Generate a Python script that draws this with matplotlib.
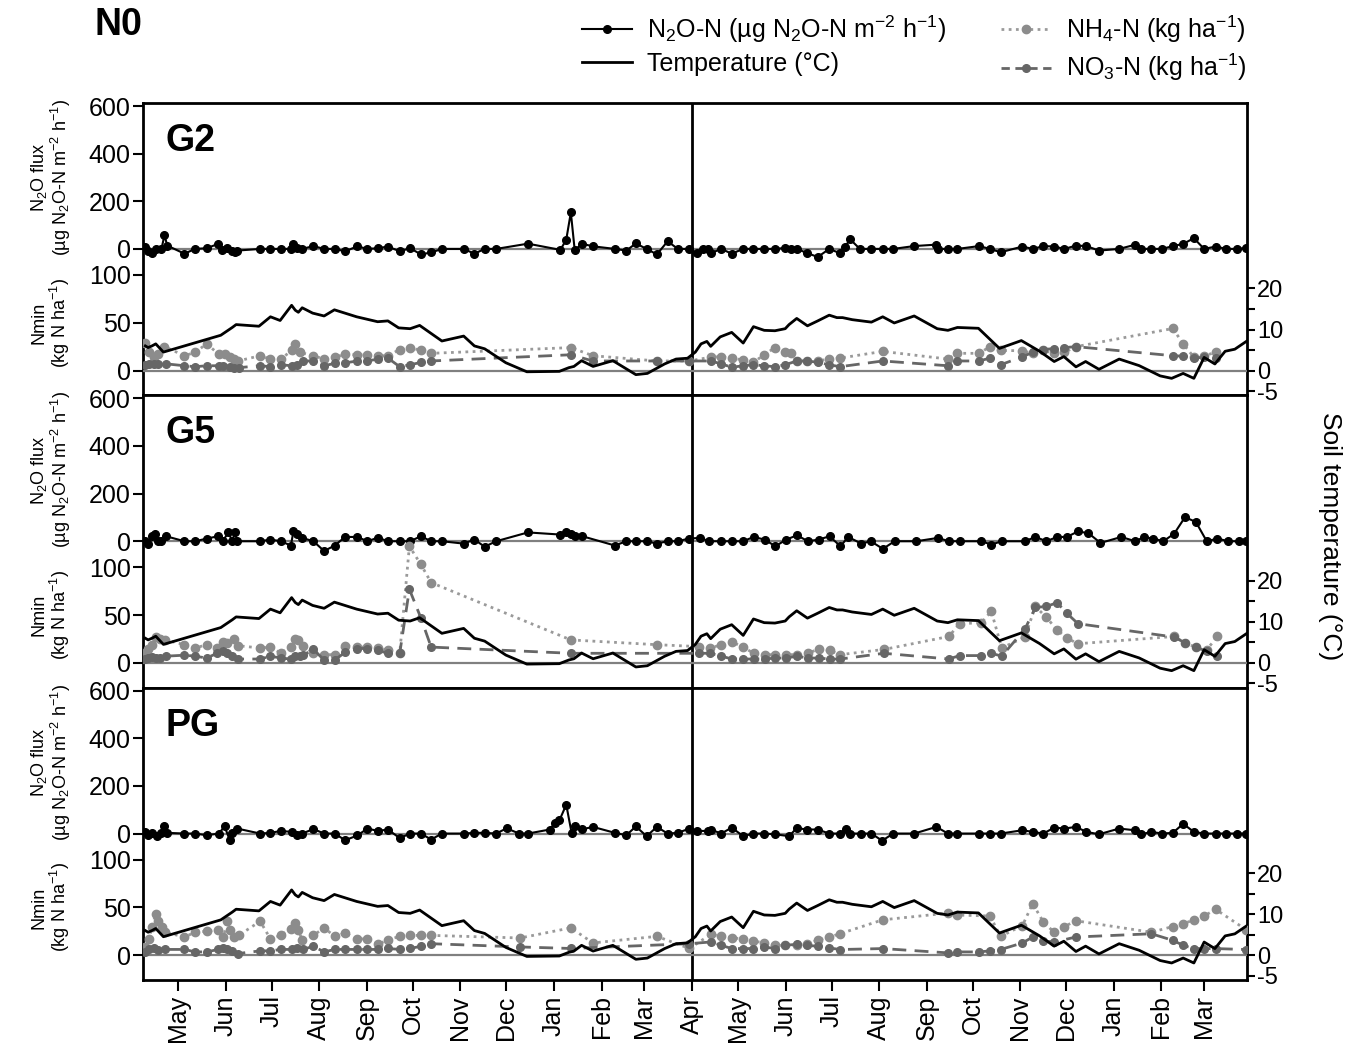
"""N2O flux, mineral N and soil temperature for the N0 treatment (G2, G5, PG)."""

import numpy as np
import matplotlib
matplotlib.use("Agg")
import matplotlib.pyplot as plt
import matplotlib.dates as mdates
from matplotlib.lines import Line2D
from matplotlib.transforms import blended_transform_factory

plt.rcParams["font.family"] = ["Liberation Sans", "DejaVu Sans"]
plt.rcParams["mathtext.fontset"] = "custom"
plt.rcParams["mathtext.rm"] = "Liberation Sans"
plt.rcParams["mathtext.it"] = "Liberation Sans:italic"
plt.rcParams["mathtext.bf"] = "Liberation Sans:bold"

# sampling days counted from 1 April of the first season
temp_day = [8.5, 10.3, 12.8, 15.3, 20.3, 57.7, 65.2, 67.7, 82.6, 90.1, 96.4, 103.9, 106.3, 108.3, 110.8,
            117.6, 125.1, 131.8, 146.3, 160.0, 166.7, 173.7, 181.2, 187.4, 201.9, 216.1, 223.1, 229.8,
            243.6, 257.3, 278.5, 284.7, 288.0, 293.0, 300.5, 313.4, 328.4, 335.9, 347.1, 354.6, 362.1,
            367.2, 370.9, 374.7, 377.2, 383.4, 390.9, 398.4, 405.1, 412.1, 419.1, 425.8, 428.3, 433.3,
            440.3, 447.0, 454.5, 459.5, 463.2, 469.5, 482.0, 489.4, 496.9, 509.9, 524.9, 531.9, 538.1,
            551.8, 565.5, 579.8, 591.7, 601.2, 607.5, 615.4, 621.7, 630.4, 643.6, 656.6, 670.3, 677.8,
            685.3, 692.3, 699.0, 706.0, 712.7, 719.0, 726.5]
temp_c = [6.0, 5.6, 6.0, 6.5, 4.5, 8.6, 10.5, 11.2, 10.8, 13.1, 12.2, 15.9, 14.7, 14.2, 15.3,
          14.0, 13.3, 14.8, 13.1, 11.9, 12.1, 10.4, 10.2, 11.0, 7.2, 8.4, 6.0, 5.3,
          1.9, -0.3, -0.2, 0.7, 1.0, 2.4, 1.0, 2.4, -1.0, -0.7, 1.6, 2.8, 3.0,
          4.5, 6.5, 7.1, 5.9, 8.2, 9.3, 6.7, 10.7, 9.8, 9.7, 10.2, 11.2, 12.7,
          10.9, 12.1, 13.5, 12.9, 12.9, 12.4, 11.8, 13.1, 11.6, 13.3, 10.2, 9.8, 10.5,
          10.3, 5.4, 7.3, 4.7, 2.2, 3.4, 0.9, 2.2, 0.3, 2.8, 1.2, -1.3, -1.9,
          -0.7, -1.9, 3.2, 1.6, 4.7, 5.2, 7.1]

# ---- G2 ----
g2_flux_day = [8.5, 10.3, 12.8, 15.3, 19.0, 21.0, 22.8, 34.0, 41.0, 48.5, 56.0, 58.4, 61.9, 65.2, 66.9,
               68.4, 83.4, 90.1, 96.9, 103.4, 105.1, 107.6, 110.8, 118.1, 125.1, 132.0, 138.8, 146.8,
               153.3, 160.2, 166.7, 174.4, 181.2, 188.2, 194.9, 201.9, 216.1, 223.1, 229.8, 237.3, 258.0,
               279.2, 283.0, 286.0, 288.5, 293.5, 300.4, 314.7, 322.2, 328.4, 335.4, 342.1, 349.1, 355.8,
               362.8, 368.4, 372.2, 375.2, 377.2, 384.1, 390.9, 398.4, 405.1, 412.1, 419.1, 425.8, 429.6,
               433.3, 440.0, 447.0, 454.5, 461.5, 464.5, 468.2, 474.5, 482.0, 489.4, 496.2, 509.9, 524.4,
               525.6, 531.9, 538.1, 552.3, 559.3, 566.3, 580.5, 587.2, 594.2, 601.2, 607.9, 615.4, 622.2,
               630.4, 643.6, 653.6, 657.9, 664.6, 671.6, 678.6, 685.3, 692.3, 699.0, 706.5, 713.5, 720.2,
               726.5]
g2_flux = [10, -7, -18, 0, 0, 57, 14, -20, 0, 3, 21, -4, 3, -10, -15,
           -7, 0, 0, 0, 0, 21, 3, 0, 12, 0, 0, -10, 11,
           0, 3, 10, -10, 3, -23, -15, 0, 0, -20, 0, 0, 22,
           -4, 39, 153, -4, 21, 11, 0, -7, 23, 0, -23, 32, 0,
           0, -18, 0, 0, -18, 0, -20, 0, 0, 0, 0, 4, 0,
           0, -17, -34, 0, -18, 7, 40, 0, 0, 0, 0, 12, 18,
           0, 0, 0, 12, 0, -14, 10, 0, 12, 10, 0, 14, 12,
           -7, 0, 17, 0, 0, 0, 12, 21, 45, 0, 10, 0, 0,
           4]
g2_nh4_day = [8.5, 11.0, 14.0, 16.5, 21.0, 34.0, 41.0, 48.5, 56.4, 60.2, 63.4, 66.4, 68.9, 83.4, 90.1,
              96.9, 103.9, 106.3, 109.3, 118.1, 125.1, 132.0, 138.8, 146.8, 153.3, 160.2, 166.7, 174.4,
              181.2, 188.2, 194.9, 286.0, 300.4, 342.1, 363.3, 377.2, 384.1, 390.9, 398.4, 405.1, 412.1,
              419.1, 425.8, 429.6, 433.3, 440.0, 447.0, 454.5, 461.5, 489.4, 531.9, 538.1, 552.3, 559.3,
              566.3, 580.5, 587.2, 594.2, 601.2, 607.9, 615.4, 678.6, 685.3, 692.3, 699.0, 706.5]
g2_nh4 = [29, 19, 14, 17, 25, 15.5, 19, 28, 17, 17, 14, 12, 10, 15.5, 12,
          12, 21, 28, 19, 15.5, 12, 14, 17, 16.5, 16.5, 15.5, 15.5, 22,
          24, 21, 18, 24, 15.5, 10, 10, 14, 14.5, 13, 11, 8.6, 16.5,
          24, 19, 18, 10, 10, 10, 12, 13, 20, 12, 18, 18, 25,
          21, 20.7, 18, 21, 18, 19, 25, 44, 28, 14, 15.5, 19]
g2_no3_day = [8.5, 11.0, 14.0, 16.5, 22.0, 34.0, 41.0, 48.5, 56.4, 58.9, 63.4, 66.4, 69.4, 83.4, 90.1,
              96.9, 103.9, 107.6, 111.3, 118.1, 125.1, 132.0, 138.8, 146.8, 153.3, 160.2, 166.7, 174.4,
              181.2, 188.2, 194.9, 286.0, 300.4, 342.1, 363.3, 377.2, 384.1, 390.9, 398.4, 405.1, 412.1,
              419.1, 425.8, 433.3, 440.0, 447.0, 454.5, 461.5, 489.4, 531.9, 538.1, 552.3, 559.3, 566.3,
              580.5, 587.2, 594.2, 601.2, 607.9, 615.4, 678.6, 685.3, 692.3, 699.0, 706.5]
g2_no3 = [6, 7, 7, 7, 7, 5, 4, 5, 5, 5, 4, 3, 3, 5, 4,
          6, 5, 6, 10, 10, 5, 7.5, 8, 10, 10, 12, 13, 4,
          6, 8.5, 10, 16.5, 10, 10, 10, 10, 7, 3.4, 5, 6, 5,
          4, 6, 10, 10, 8.6, 6, 4, 10, 5, 10, 10, 13, 6,
          14.5, 19, 22, 23, 24, 25, 15.5, 15, 13, 14, 13]

# ---- G5 ----
g5_flux_day = [8.5, 10.3, 12.8, 14.5, 16.5, 19.0, 22.0, 34.0, 41.0, 48.5, 56.0, 58.9, 62.7, 65.2, 66.9,
               68.4, 83.4, 90.1, 96.9, 103.4, 105.1, 107.6, 110.8, 118.1, 125.1, 132.0, 138.8, 146.8,
               153.3, 160.2, 166.7, 174.4, 181.2, 188.2, 194.9, 201.9, 216.1, 223.1, 229.8, 237.3, 258.0,
               279.2, 283.0, 286.0, 288.5, 293.5, 314.7, 322.2, 328.4, 335.4, 342.1, 349.1, 355.8, 362.8,
               369.9, 376.4, 384.1, 391.1, 398.2, 405.3, 412.3, 419.4, 426.5, 433.5, 440.6, 447.7, 454.7,
               461.8, 466.9, 475.4, 481.6, 489.5, 497.1, 511.3, 525.4, 532.5, 539.5, 553.7, 560.2, 567.0,
               582.0, 589.0, 596.1, 603.1, 609.4, 616.7, 623.5, 631.4, 645.0, 654.0, 659.7, 665.9, 672.4,
               679.5, 686.5, 693.6, 700.7, 707.7, 714.8, 721.9, 726.5]
g5_flux = [0, -10, 21, 32, 0, 0, 21, 0, 0, 11, 21, 0, 37, 0, 37,
           0, 0, 7, 0, -18, 41, 32, 14, 0, -41, -18, 18, 18,
           0, 15, 0, 0, 0, 21, 0, 0, -10, 7, -23, 0, 37,
           28, 37, 32, 21, 21, -18, 0, 0, 0, -10, 0, 0, 11,
           14, 0, 0, 0, 0, 18, 7, -21, 7, 25, 0, 7, 21,
           -21, 18, -10, 0, -32, 0, 0, 14, 0, 0, 0, -14, 0,
           0, 18, 0, 18, 18, 41, 34, -7, 18, 0, 17, 11, 0,
           32, 101, 81, 0, 11, 0, 0, 0]
g5_nh4_day = [8.5, 10.3, 12.8, 15.3, 17.8, 21.5, 34.0, 41.0, 48.5, 55.2, 59.4, 61.9, 66.4, 68.9, 83.4,
              90.1, 96.9, 103.4, 105.8, 108.3, 111.3, 118.1, 125.1, 132.0, 138.8, 146.8, 153.3, 160.2,
              166.7, 174.4, 180.7, 188.2, 194.9, 286.0, 342.1, 369.6, 377.0, 384.1, 391.1, 398.2, 405.3,
              412.3, 419.4, 426.5, 433.5, 440.6, 447.7, 454.7, 461.8, 490.1, 532.5, 539.5, 553.7, 560.2,
              567.0, 582.0, 589.0, 596.1, 603.1, 609.4, 616.7, 679.5, 686.5, 693.6, 700.7, 707.7]
g5_nh4 = [10, 14, 19, 27, 25, 24, 19, 15.5, 19, 15.5, 22, 21, 25, 18, 15.5,
          16.5, 10, 17, 25, 23.4, 18, 10, 8.6, 8.6, 18, 16.5, 16.5, 15.5,
          13, 10, 122, 103, 84, 24, 19, 17, 15.5, 19, 22, 16.5, 10,
          8.6, 8.6, 8.6, 8.6, 10, 14.5, 13, 8.6, 14, 27.6, 41, 42, 54,
          15.5, 27, 59, 47.6, 34.5, 26, 20, 27.6, 20.7, 16.5, 13.8, 27.6]
g5_no3_day = [8.5, 10.3, 12.8, 15.3, 17.8, 22.0, 34.0, 41.0, 48.5, 55.2, 58.9, 61.9, 65.2, 68.9, 83.4,
              90.1, 96.9, 103.4, 106.3, 109.3, 111.3, 118.1, 125.1, 132.0, 138.8, 146.8, 153.3, 160.2,
              166.7, 174.4, 180.7, 188.2, 194.9, 286.0, 369.6, 377.0, 384.1, 391.1, 398.2, 405.3, 412.3,
              419.4, 426.5, 433.5, 440.6, 447.7, 454.7, 461.8, 490.1, 532.5, 539.5, 553.7, 560.2, 567.0,
              582.0, 589.0, 596.1, 603.1, 609.4, 616.7, 679.5, 686.5, 693.6, 700.7, 707.7]
g5_no3 = [4, 5, 6, 5, 5, 7, 8, 7, 5, 10, 12, 10, 7, 4, 4,
          7, 5, 4, 7, 7, 8, 14, 3, 3, 11, 15, 15, 13,
          10, 10, 77, 47, 16.5, 10, 10, 10, 7, 4, 4, 4, 4,
          5, 5, 7, 5, 5, 4, 4, 10, 4, 7.6, 7.6, 10, 7,
          35, 58, 59, 63, 52, 41, 27, 21, 16.5, 12, 7]

# ---- PG ----
pg_flux_day = [8.5, 10.3, 12.8, 16.0, 19.0, 21.0, 22.8, 34.0, 41.0, 48.5, 56.4, 60.2, 63.4, 65.2, 68.4,
               83.4, 90.1, 96.9, 103.9, 107.6, 110.8, 118.1, 125.1, 132.0, 138.8, 146.8, 153.3, 160.2,
               166.7, 174.4, 181.2, 188.2, 194.9, 201.9, 216.1, 223.1, 229.8, 237.3, 244.1, 252.3, 258.0,
               272.3, 275.5, 278.5, 283.0, 286.5, 288.5, 293.5, 300.4, 314.7, 322.2, 328.4, 335.4, 342.1,
               349.1, 355.8, 363.3, 368.4, 375.2, 377.2, 384.1, 390.9, 398.4, 405.1, 412.1, 419.1, 428.3,
               433.3, 440.0, 447.0, 454.5, 461.5, 465.7, 468.2, 475.0, 482.0, 489.0, 496.2, 509.9, 524.4,
               531.9, 538.1, 552.3, 559.3, 566.3, 580.5, 587.2, 594.2, 601.2, 607.9, 615.4, 622.2, 630.4,
               643.6, 653.6, 657.9, 664.6, 671.6, 678.6, 685.3, 692.3, 699.0, 706.5, 713.5, 720.2, 726.5]
pg_flux = [7, -7, 3, -11, 3, 30, 3, 0, 0, -7, 0, 30, -25, 3, 21,
           0, 3, 11, 7, -7, 0, 19, 0, 0, -28, -8, 21, 11,
           17, -19, 0, 0, -25, 0, 0, 3, 3, 0, 22, 0, 0,
           17, 44, 55, 121, 3, 33, 18, 28, 3, -7, 30, -11, 28,
           0, 3, 21, 11, 11, 17, 0, 25, -11, 0, 0, -3, -11,
           23, 17, 17, 0, 0, 21, 0, 0, 0, -30, 0, 0, 28,
           0, 0, 0, 0, 0, 14, 7, 0, 25, 21, 28, 7, -3,
           21, 14, -3, 7, 0, 3, 41, 7, 0, 0, 0, 0, 0]
pg_nh4_day = [8.5, 11.0, 12.8, 15.3, 17.0, 19.5, 21.5, 34.0, 41.0, 48.5, 56.0, 59.4, 61.9, 64.0, 66.4,
              69.4, 83.4, 90.1, 96.9, 103.4, 105.8, 108.3, 110.8, 118.1, 125.1, 132.0, 138.8, 146.8,
              153.3, 160.2, 166.7, 174.4, 181.2, 188.2, 194.9, 253.0, 286.0, 300.4, 342.1, 363.3, 377.2,
              384.1, 390.9, 398.4, 405.1, 412.1, 419.1, 425.8, 433.3, 440.0, 447.0, 454.5, 461.5, 489.4,
              531.9, 538.1, 559.3, 566.3, 580.5, 587.2, 594.2, 601.2, 607.9, 615.4, 664.6, 678.6, 685.3,
              692.3, 699.0, 706.5, 726.5]
pg_nh4 = [8.6, 17, 30, 43, 36, 29, 24, 19, 24, 25, 26.5, 19, 35.5, 26.5, 19,
          20.7, 35.5, 17, 20.7, 27.6, 33.4, 26, 16, 20.7, 28.6, 19.7, 23, 17,
          17, 11.4, 16, 19.7, 20.7, 20.7, 20.7, 18, 28.6, 12.8, 19.7, 7, 21.7,
          19.7, 18.3, 17, 14.8, 12.8, 10.3, 10.3, 10.3, 12, 15.5, 19, 22.4, 37,
          44, 42, 41, 19.7, 31, 54, 34.5, 24, 30, 36, 24, 30, 32.8,
          37, 41, 48, 26.5]
pg_no3_day = [8.5, 11.0, 14.0, 17.0, 21.5, 34.0, 41.0, 48.5, 56.0, 59.4, 61.9, 65.2, 68.9, 83.4, 90.1,
              96.9, 103.9, 107.6, 111.3, 118.1, 125.1, 132.0, 138.8, 146.8, 153.3, 160.2, 166.7, 174.4,
              181.2, 188.2, 194.9, 253.0, 286.0, 363.3, 377.2, 384.1, 390.9, 398.4, 405.1, 412.1, 419.1,
              425.8, 433.3, 440.0, 447.0, 454.5, 461.5, 489.4, 531.9, 538.1, 552.3, 559.3, 566.3, 580.5,
              587.2, 594.2, 601.2, 615.4, 664.6, 678.6, 685.3, 692.3, 699.0, 706.5, 726.5]
pg_no3 = [3.4, 6, 7, 5, 6, 6, 3.4, 3.4, 6, 7, 6, 4.5, 1.7, 4.5, 4.5,
          6, 6, 7, 6, 9.3, 3.4, 6, 6, 6, 6, 6, 7, 6,
          7, 9.3, 12, 8.6, 7, 12, 13.8, 10.3, 6.9, 6.9, 6.9, 8.6, 6.9,
          10.3, 11.4, 10.3, 9.3, 7.6, 5.9, 6.9, 2.4, 3.4, 3.4, 4.5, 5.9, 12.8,
          19, 14.8, 13.8, 19, 22.4, 15.5, 10.3, 6.9, 6.9, 6.9, 5.9]

START = np.datetime64("2013-04-01T00:00")


def to_date(days):
    return START + (np.asarray(days, dtype=float) * 1440).round().astype("timedelta64[m]")


groups = [
    ("G2", g2_flux_day, g2_flux, g2_nh4_day, g2_nh4, g2_no3_day, g2_no3),
    ("G5", g5_flux_day, g5_flux, g5_nh4_day, g5_nh4, g5_no3_day, g5_no3),
    ("PG", pg_flux_day, pg_flux, pg_nh4_day, pg_nh4, pg_no3_day, pg_no3),
]

NH4_COLOR = "#8c8c8c"
NO3_COLOR = "#666666"
ZERO_COLOR = "#808080"

fig = plt.figure(figsize=(13.57, 10.44), dpi=100)
left, right, top, bottom = 0.1054, 0.919, 0.9013, 0.0613
block_h = (top - bottom) / 3

flux_label = "N$_2$O flux\n(µg N$_2$O-N m$^{-2}$ h$^{-1}$)"
nmin_label = "Nmin\n(kg N ha$^{-1}$)"

for i, (name, fday, flux, aday, nh4, nday, no3) in enumerate(groups):
    ax = fig.add_axes([left, top - (i + 1) * block_h, right - left, block_h])
    axn = ax.twinx()
    axt = ax.twinx()
    axn.yaxis.tick_left()

    # flux part (upper)
    ax.axhline(0, color=ZERO_COLOR, lw=1.6, zorder=1)
    ax.plot(to_date(fday), flux, color="black", lw=1.5, marker="o", ms=5.5, zorder=3)
    ax.set_ylim(-615, 612.6)
    ax.set_yticks([0, 200, 400, 600])

    # mineral N part (lower)
    axn.axhline(0, color=ZERO_COLOR, lw=1.6, zorder=1)
    axn.plot(to_date(aday), nh4, color="#9a9a9a", lw=2, ls=(0, (1, 1.6)),
             marker="o", ms=6, mfc=NH4_COLOR, mec=NH4_COLOR, zorder=2)
    axn.plot(to_date(nday), no3, color=NO3_COLOR, lw=2, ls=(0, (5, 3)),
             marker="o", ms=5.5, mfc=NO3_COLOR, mec=NO3_COLOR, zorder=3)
    axn.set_ylim(-26, 280)
    axn.set_yticks([0, 50, 100])

    # soil temperature (right axis)
    axt.plot(to_date(temp_day), temp_c, color="black", lw=2, zorder=4)
    axt.set_ylim(-6.05, 65.2)
    axt.set_yticks([-5, 0, 5, 10, 15, 20])
    axt.set_yticklabels(["-5", "0", "", "10", "", "20"])

    for a in (axn, axt):
        for s in a.spines.values():
            s.set_visible(False)
    for s in ax.spines.values():
        s.set_linewidth(2)

    ax.axvline(to_date([365])[0], color="black", lw=2, zorder=5)
    ax.set_xlim(to_date([7])[0], to_date([727])[0])

    ax.tick_params(axis="y", direction="out", length=7, width=1.5, labelsize=18, pad=2)
    axn.tick_params(axis="y", direction="out", length=7, width=1.5, labelsize=18, pad=2)
    axt.tick_params(axis="y", direction="out", length=6, width=1.5, labelsize=17, pad=1)

    ax.xaxis.set_major_locator(mdates.MonthLocator())
    ax.xaxis.set_major_formatter(mdates.DateFormatter("%b"))
    if i < 2:
        ax.tick_params(axis="x", bottom=False, labelbottom=False)
    else:
        ax.tick_params(axis="x", direction="out", length=8, width=1.5, labelsize=18,
                       labelrotation=90, pad=3)

    ax.text(0.02, 0.87, name, transform=ax.transAxes, fontsize=27, fontweight="bold",
            ha="left", va="center")

    tr = blended_transform_factory(ax.transAxes, ax.transData)
    ax.text(-0.083, 300, flux_label, transform=tr, rotation=90, ha="center", va="center",
            fontsize=13, linespacing=1.0)
    trn = blended_transform_factory(axn.transAxes, axn.transData)
    axn.text(-0.083, 50, nmin_label, transform=trn, rotation=90, ha="center", va="center",
             fontsize=13, linespacing=1.0)

fig.text(0.98, 0.486, "Soil temperature (°C)", rotation=270, ha="center", va="center", fontsize=19)
fig.text(0.07, 0.976, "N0", fontsize=27, fontweight="bold", ha="left", va="center")

handles = [
    Line2D([], [], color="black", lw=1.5, marker="o", ms=5.5),
    Line2D([], [], color="black", lw=2),
    Line2D([], [], color="#9a9a9a", lw=2, ls=(0, (1, 1.6)), marker="o", ms=6,
           mfc=NH4_COLOR, mec=NH4_COLOR),
    Line2D([], [], color=NO3_COLOR, lw=2, ls=(0, (3, 2)), marker="o", ms=5.5,
           mfc=NO3_COLOR, mec=NO3_COLOR),
]
labels = [
    "N$_2$O-N (µg N$_2$O-N m$^{-2}$ h$^{-1}$)",
    "Temperature (°C)",
    "NH$_4$-N (kg ha$^{-1}$)",
    "NO$_3$-N (kg ha$^{-1}$)",
]
fig.legend(handles, labels, loc="upper right", bbox_to_anchor=(0.935, 1.009), ncol=2,
           frameon=False, fontsize=18, handlelength=2.0, columnspacing=2.2,
           labelspacing=0.3, handletextpad=0.6)

fig.savefig("out.png", dpi=100)
